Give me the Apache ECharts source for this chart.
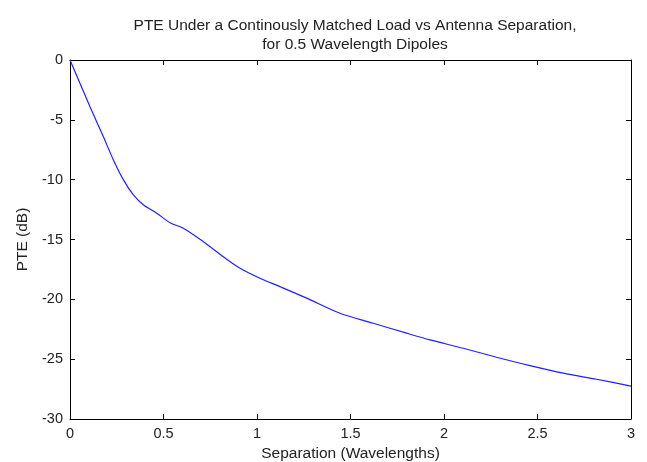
<!DOCTYPE html>
<html>
<head>
<meta charset="utf-8">
<script src="https://cdn.jsdelivr.net/npm/echarts@6/dist/echarts.min.js"></script>
<style>
    html, body { margin: 0; padding: 0; background: #fff; }
    #chart { width: 647px; height: 462px; }
</style>
</head>
<body>
<div id="chart"></div>
<script>
// separation in wavelengths
const separation = [0, 0.107, 0.178, 0.232, 0.285, 0.339, 0.392, 0.464, 0.535, 0.606, 0.713, 0.838,
    0.909, 1.016, 1.123, 1.266, 1.444, 1.622, 1.80, 1.925, 2.103, 2.281, 2.46, 2.638, 2.816, 3.0]
// PTE in dB
const pte = [0, -3.9, -6.4, -8.35, -10.0, -11.28, -12.1, -12.8, -13.6, -14.06, -15.18, -16.65,
    -17.4, -18.24, -18.94, -19.9, -21.16, -22.0, -22.83, -23.39, -24.09, -24.84, -25.54, -26.17, -26.68, -27.25]
const xTicks = [0, 0.5, 1, 1.5, 2, 2.5, 3]
const yTicks = [0, -5, -10, -15, -20, -25, -30]

const font = 'Liberation Sans, Arial, sans-serif'
const chart = echarts.init(document.getElementById('chart'), null, { renderer: 'canvas' })

const boxAxis = {
    axisLine: { show: true, onZero: false, lineStyle: { color: '#000', width: 1 } },
    axisTick: { show: true, inside: true, length: 5, lineStyle: { color: '#000' } },
    splitLine: { show: false }
}

chart.setOption({
    animation: false,
    title: {
        text: 'PTE Under a Continously Matched Load vs Antenna Separation,\nfor 0.5 Wavelength Dipoles',
        left: 350,
        top: 11,
        textAlign: 'center',
        textStyle: { fontFamily: font, fontSize: 15.5, fontWeight: 'normal', color: '#222', lineHeight: 19 }
    },
    // keep the plot box fixed, labels sit outside it
    grid: { left: 70, right: 16, top: 60, bottom: 43, outerBoundsMode: 'none', containLabel: false },
    xAxis: [{
        type: 'value', min: xTicks[0], max: xTicks[xTicks.length - 1], interval: 0.5, position: 'bottom',
        ...boxAxis,
        axisLabel: { fontFamily: font, fontSize: 14.5, color: '#222', margin: 7, formatter: v => String(v) },
        name: 'Separation (Wavelengths)',
        nameLocation: 'middle',
        nameGap: 27,
        nameTextStyle: { fontFamily: font, fontSize: 15.5, color: '#222' }
    }, {
        type: 'value', min: xTicks[0], max: xTicks[xTicks.length - 1], interval: 0.5, position: 'top',
        ...boxAxis,
        axisLabel: { show: false }
    }],
    yAxis: [{
        type: 'value', min: yTicks[yTicks.length - 1], max: yTicks[0], interval: 5, position: 'left',
        ...boxAxis,
        axisLabel: { fontFamily: font, fontSize: 14.5, color: '#222', margin: 7 },
        name: 'PTE (dB)',
        nameLocation: 'middle',
        nameGap: 37,
        nameTextStyle: { fontFamily: font, fontSize: 15.5, color: '#222' }
    }, {
        type: 'value', min: yTicks[yTicks.length - 1], max: yTicks[0], interval: 5, position: 'right',
        ...boxAxis,
        axisLabel: { show: false }
    }],
    series: [{
        type: 'line',
        data: separation.map((s, i) => [s, pte[i]]),
        showSymbol: false,
        smooth: 0.3,
        lineStyle: { color: '#2020ff', width: 1.2 }
    }]
})
</script>
</body>
</html>
